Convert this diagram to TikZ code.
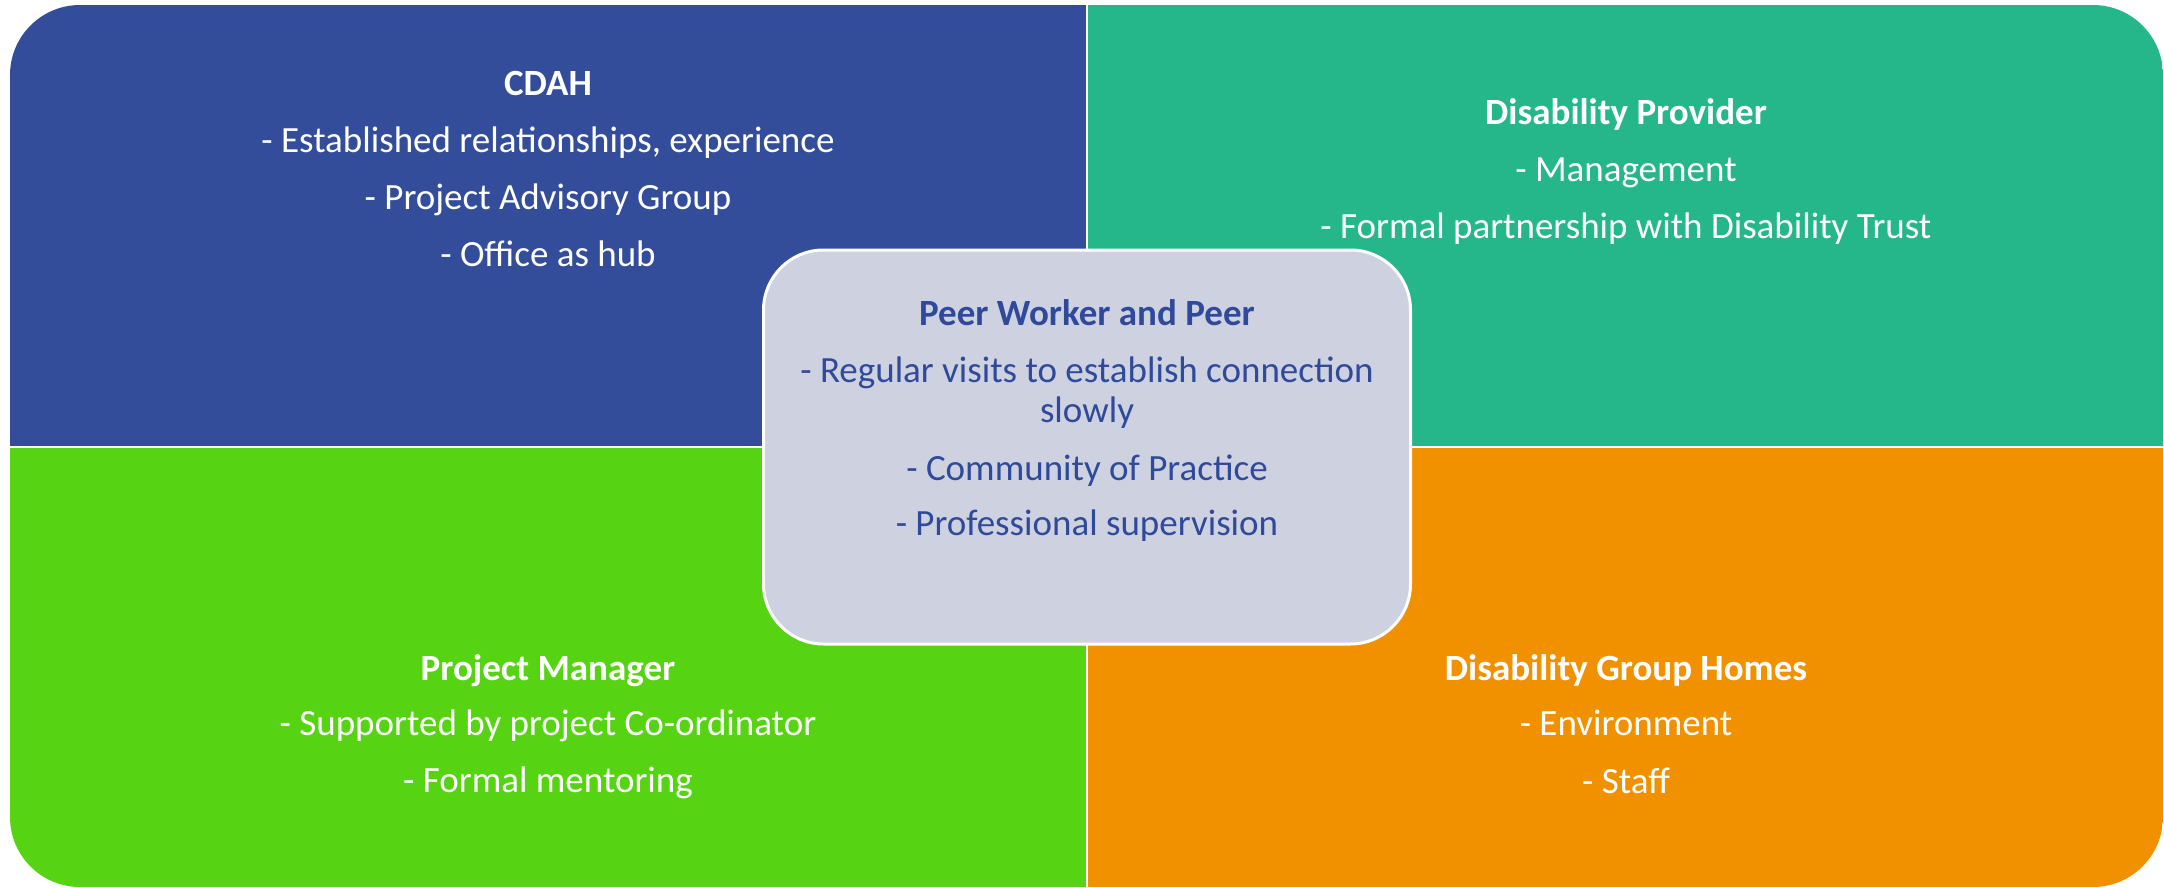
\documentclass[tikz,border=0pt]{standalone}
\usepackage{fontspec}
\setmainfont{Carlito}
\begin{document}
\definecolor{qblue}{HTML}{334D9B}
\definecolor{qteal}{HTML}{25B78A}
\definecolor{qgreen}{HTML}{56D414}
\definecolor{qorange}{HTML}{F29100}
\definecolor{hubfill}{HTML}{CDD1E0}
\definecolor{hubtext}{HTML}{2F4A9A}
\begin{tikzpicture}[x=1pt,y=-1pt,
  qtext/.style={anchor=base,inner sep=0pt,text=white,font=\fontsize{37}{40}\selectfont},
  qtitle/.style={qtext,font=\fontsize{37}{40}\selectfont\bfseries},
  htext/.style={qtext,text=hubtext},
  htitle/.style={qtitle,text=hubtext}]
  \useasboundingbox[fill=white] (0,0) rectangle (2164,888);

  % four quadrants clipped to one rounded outline
  \begin{scope}
    \clip[rounded corners=70pt] (10,5) rectangle (2163,887);
    \fill[qblue]   (10,5)    rectangle (1087,447);
    \fill[qteal]   (1087,5)  rectangle (2163,447);
    \fill[qgreen]  (10,447)  rectangle (1087,887);
    \fill[qorange] (1087,447) rectangle (2163,887);
  \end{scope}
  \draw[white,line width=2.5pt] (1087,0) -- (1087,888);
  \draw[white,line width=2.5pt] (10,447) -- (2164,447);

  % central hub
  \node[draw=white,line width=3pt,fill=hubfill,rounded corners=60pt,
        minimum width=647pt,minimum height=394pt,inner sep=0pt] (hub) at (1087,447) {};

  % CDAH
  \node[qtitle] (cdah)  at (548,96)  {CDAH};
  \node[qtext]  (cdah1) at (548,153) {- Established relationships, experience};
  \node[qtext]  (cdah2) at (548,209) {- Project Advisory Group};
  \node[qtext]  (cdah3) at (548,266) {- Office as hub};

  % Disability Provider
  \node[qtitle] (prov)  at (1626,125) {Disability Provider};
  \node[qtext]  (prov1) at (1626,182) {- Management};
  \node[qtext]  (prov2) at (1626,238) {- Formal partnership with Disability Trust};

  % Project Manager
  \node[qtitle] (pm)  at (548,680) {Project Manager};
  \node[qtext]  (pm1) at (548,735) {- Supported by project Co-ordinator};
  \node[qtext]  (pm2) at (548,792) {- Formal mentoring};

  % Disability Group Homes
  \node[qtitle] (dgh)  at (1626,680) {Disability Group Homes};
  \node[qtext]  (dgh1) at (1626,735) {- Environment};
  \node[qtext]  (dgh2) at (1626,793) {- Staff};

  % Peer Worker and Peer
  \node[htitle] (peer)  at (1087,325) {Peer Worker and Peer};
  \node[htext]  (peer1) at (1087,382) {- Regular visits to establish connection};
  \node[htext]  (peer1b) at (1087,422) {slowly};
  \node[htext]  (peer2) at (1087,480) {- Community of Practice};
  \node[htext]  (peer3) at (1087,535) {- Professional supervision};
\end{tikzpicture}
\end{document}
